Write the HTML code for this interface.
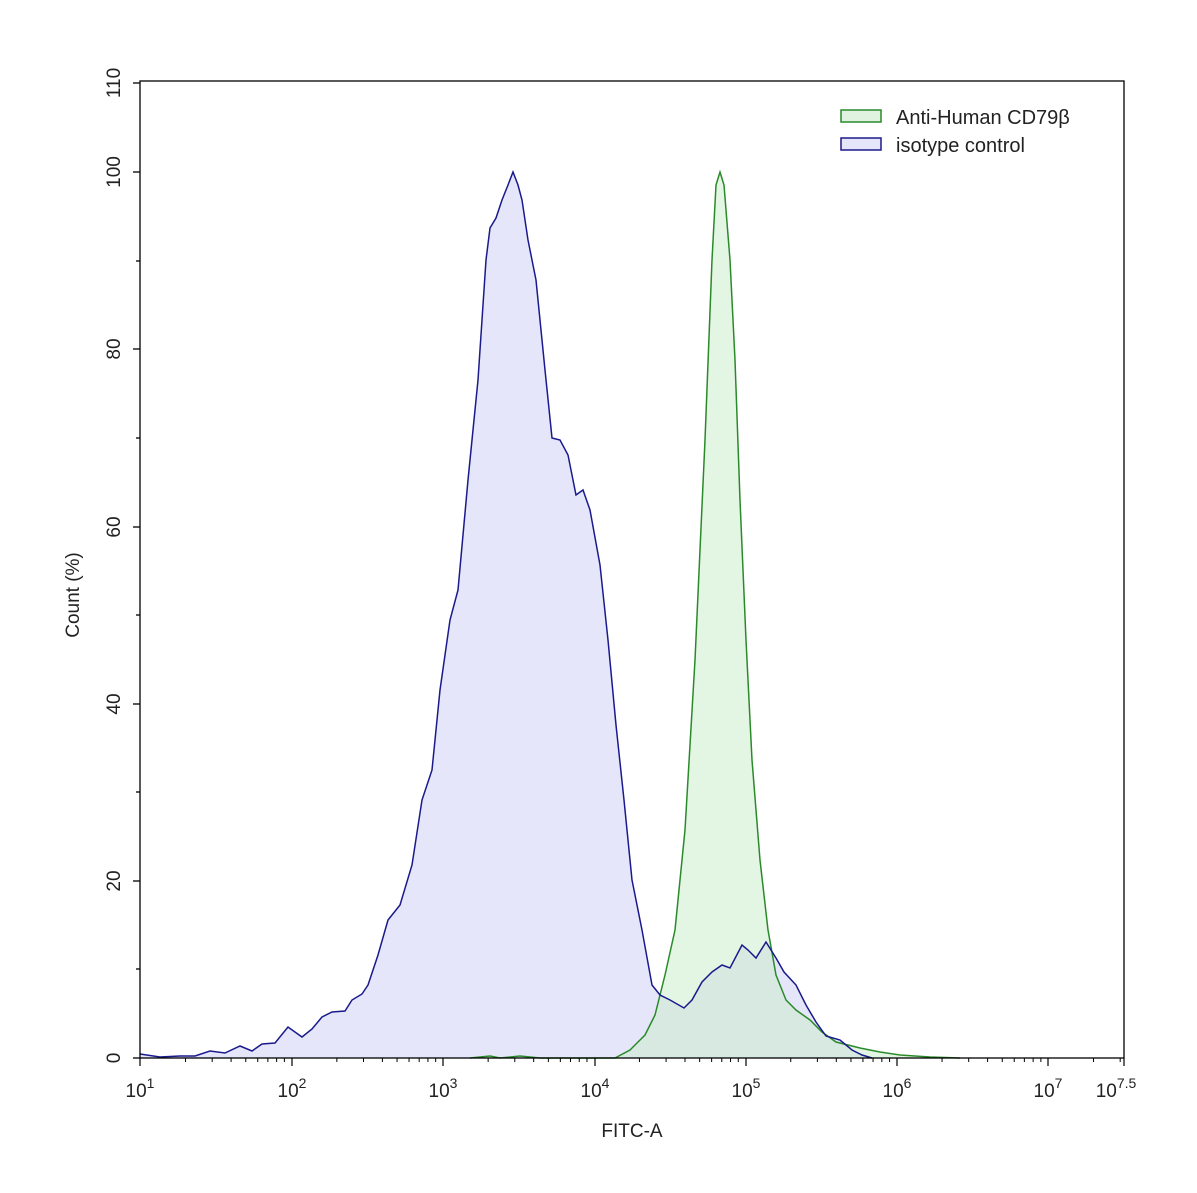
<!DOCTYPE html>
<html><head><meta charset="utf-8"><style>
body{margin:0;background:#fff}
svg{display:block;font-family:"Liberation Sans",sans-serif}
</style></head><body>
<svg width="1197" height="1193" viewBox="0 0 1197 1193">
<rect width="1197" height="1193" fill="#fff"/>
<!-- blue fill -->
<polygon fill="#e6e6fa" stroke="none" points="140,1058 140,1054 160,1057 180,1056 195,1056 210,1051 225,1053 240,1046 252,1051 262,1044 275,1043 288,1027 302,1037 312,1029 322,1017 332,1012 345,1011 352,1000 362,994 368,985 378,955 388,920 400,905 412,865 422,800 432,770 440,690 450,620 458,590 468,480 478,380 486,260 490,228 496,218 502,200 508,185 513,172 518,185 522,200 528,240 536,280 545,370 552,438 560,440 568,455 576,495 583,490 590,510 600,565 608,640 616,725 624,800 632,880 642,930 652,985 660,995 670,1000 684,1008 692,1000 702,982 712,972 722,965 730,968 742,945 748,950 756,958 766,942 776,958 784,972 796,985 806,1005 816,1022 826,1036 840,1040 852,1050 862,1055 872,1058"/>
<!-- green fill -->
<polygon fill="rgba(200,235,200,0.5)" stroke="none" points="600,1058 615,1058 630,1050 645,1035 655,1015 665,975 675,930 685,830 695,660 705,440 712,260 716,185 720,172 724,185 730,260 735,360 740,500 746,640 752,760 760,860 768,930 776,975 786,1000 796,1010 810,1020 822,1032 836,1042 860,1048 880,1052 900,1055 930,1057 960,1058"/>
<polyline fill="none" stroke="#2a8a2a" stroke-width="1.5" points="470,1058 490,1056 500,1058 520,1056 540,1058 600,1058 615,1058 630,1050 645,1035 655,1015 665,975 675,930 685,830 695,660 705,440 712,260 716,185 720,172 724,185 730,260 735,360 740,500 746,640 752,760 760,860 768,930 776,975 786,1000 796,1010 810,1020 822,1032 836,1042 860,1048 880,1052 900,1055 930,1057 960,1058"/>
<polyline fill="none" stroke="#1a1a8c" stroke-width="1.5" points="140,1054 160,1057 180,1056 195,1056 210,1051 225,1053 240,1046 252,1051 262,1044 275,1043 288,1027 302,1037 312,1029 322,1017 332,1012 345,1011 352,1000 362,994 368,985 378,955 388,920 400,905 412,865 422,800 432,770 440,690 450,620 458,590 468,480 478,380 486,260 490,228 496,218 502,200 508,185 513,172 518,185 522,200 528,240 536,280 545,370 552,438 560,440 568,455 576,495 583,490 590,510 600,565 608,640 616,725 624,800 632,880 642,930 652,985 660,995 670,1000 684,1008 692,1000 702,982 712,972 722,965 730,968 742,945 748,950 756,958 766,942 776,958 784,972 796,985 806,1005 816,1022 826,1036 840,1040 852,1050 862,1055 872,1058"/>
<!-- frame -->
<rect x="140" y="81" width="984" height="977" fill="none" stroke="#000" stroke-width="1.3"/>
<g stroke="#000" stroke-width="1.3">
<line x1="133" y1="1058" x2="140" y2="1058"/><line x1="133" y1="881" x2="140" y2="881"/><line x1="133" y1="704" x2="140" y2="704"/><line x1="133" y1="527" x2="140" y2="527"/><line x1="133" y1="349" x2="140" y2="349"/><line x1="133" y1="172" x2="140" y2="172"/><line x1="133" y1="83" x2="140" y2="83"/>
<line x1="136" y1="969" x2="140" y2="969"/><line x1="136" y1="792" x2="140" y2="792"/><line x1="136" y1="615" x2="140" y2="615"/><line x1="136" y1="438" x2="140" y2="438"/><line x1="136" y1="261" x2="140" y2="261"/>
</g>
<g stroke="#000" stroke-width="1.2" id="xt">
<line x1="140" y1="1058" x2="140" y2="1066"/><line x1="292" y1="1058" x2="292" y2="1066"/><line x1="443" y1="1058" x2="443" y2="1066"/><line x1="595" y1="1058" x2="595" y2="1066"/><line x1="746" y1="1058" x2="746" y2="1066"/><line x1="897" y1="1058" x2="897" y2="1066"/><line x1="1048" y1="1058" x2="1048" y2="1066"/><line x1="1124" y1="1058" x2="1124" y2="1066"/>
</g>
<g stroke="#000" stroke-width="1" id="minor"></g>
<g font-size="19" fill="#222" text-anchor="middle">
<text x="140" y="1097">10<tspan font-size="14" dy="-9">1</tspan></text>
<text x="292" y="1097">10<tspan font-size="14" dy="-9">2</tspan></text>
<text x="443" y="1097">10<tspan font-size="14" dy="-9">3</tspan></text>
<text x="595" y="1097">10<tspan font-size="14" dy="-9">4</tspan></text>
<text x="746" y="1097">10<tspan font-size="14" dy="-9">5</tspan></text>
<text x="897" y="1097">10<tspan font-size="14" dy="-9">6</tspan></text>
<text x="1048" y="1097">10<tspan font-size="14" dy="-9">7</tspan></text>
<text x="1116" y="1097">10<tspan font-size="14" dy="-9">7.5</tspan></text>
<text x="632" y="1137">FITC-A</text>
</g>
<g font-size="19" fill="#222" text-anchor="middle">
<text transform="translate(120,1058) rotate(-90)">0</text>
<text transform="translate(120,881) rotate(-90)">20</text>
<text transform="translate(120,704) rotate(-90)">40</text>
<text transform="translate(120,527) rotate(-90)">60</text>
<text transform="translate(120,349) rotate(-90)">80</text>
<text transform="translate(120,172) rotate(-90)">100</text>
<text transform="translate(120,83) rotate(-90)">110</text>
<text transform="translate(79,595) rotate(-90)">Count  (%)</text>
</g>
<rect x="841" y="110" width="40" height="12" fill="#e0f3e0" stroke="#2a8a2a" stroke-width="1.5"/>
<rect x="841" y="138" width="40" height="12" fill="#e6e6fa" stroke="#1a1a8c" stroke-width="1.5"/>
<g font-size="20" fill="#222"><text x="896" y="124">Anti-Human CD79β</text><text x="896" y="152">isotype control</text></g>
</svg>
<script>
var g=document.getElementById('minor'),s='';
for(var d=1;d<7;d++){for(var k=2;k<10;k++){var x=140+(d-1+Math.log10(k))*151.3;s+='<line x1="'+x+'" y1="1058" x2="'+x+'" y2="1062"/>';}}
for(var k=2;k<4;k++){var x=1048+Math.log10(k)*151.3;s+='<line x1="'+x+'" y1="1058" x2="'+x+'" y2="1062"/>';}
g.innerHTML=s;
</script>
</body></html>
